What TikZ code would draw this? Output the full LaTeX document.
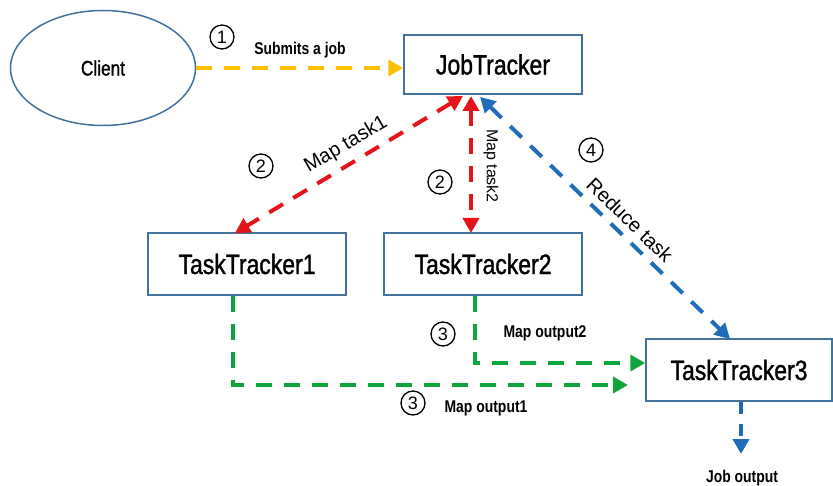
\documentclass[tikz,border=0pt]{standalone}
\usepackage{fontspec}
\setmainfont{Liberation Sans}
\newfontfamily\narrowfont[FakeStretch=0.82]{Liberation Sans}
\newfontfamily\boxfont[FakeStretch=0.82,FakeBold=1.2]{Liberation Sans}
\usetikzlibrary{shapes.geometric,arrows.meta}
\definecolor{boxblue}{HTML}{41719C}
\definecolor{ayellow}{HTML}{FFC000}
\definecolor{ared}{HTML}{E5141B}
\definecolor{ablue}{HTML}{1F6DB8}
\definecolor{agreen}{HTML}{10A53C}
\begin{document}
\begin{tikzpicture}[x=1pt,y=-1pt,
  box/.style={draw=boxblue,line width=1.5pt,rectangle,inner sep=0pt,
    font=\boxfont\fontsize{28}{30}\selectfont},
  flow/.style={line width=4pt,dash pattern=on 16pt off 12pt,
    -{Triangle[length=15pt,width=16pt]}},
  biflow/.style={line width=4pt,dash pattern=on 16pt off 12pt,
    {Triangle[length=15pt,width=16pt]}-{Triangle[length=15pt,width=16pt]}},
  num/.style={circle,draw=black,line width=1.3pt,inner sep=0pt,minimum size=24pt,
    font=\fontsize{18}{18}\selectfont},
  lbl/.style={font=\narrowfont\bfseries\fontsize{17}{19}\selectfont,inner sep=0pt},
  rlbl/.style={font=\fontsize{20}{22}\selectfont,inner sep=0pt}]
\useasboundingbox (0,0) rectangle (833,486);

% nodes
\node[draw=boxblue,line width=1.5pt,ellipse,minimum width=185pt,minimum height=115pt,
  font=\boxfont\fontsize{21}{23}\selectfont] (client) at (103,68) {Client};
\node[box,minimum width=178pt,minimum height=59pt] (jt) at (493,64.5) {JobTracker};
\node[box,minimum width=198pt,minimum height=62pt] (tt1) at (247,264) {TaskTracker1};
\node[box,minimum width=198pt,minimum height=62pt] (tt2) at (483,264) {TaskTracker2};
\node[box,minimum width=186pt,minimum height=62pt] (tt3) at (739,370) {TaskTracker3};

\coordinate (jtA) at (463,96);
\coordinate (jtB) at (471,96);
\coordinate (jtC) at (480,97);
\coordinate (tt1top) at (235,233);
\coordinate (tt2top) at (471,233);
\coordinate (tt3top) at (730,339);
\coordinate (g1a) at (233,296);
\coordinate (g1b) at (233,385);
\coordinate (g1c) at (628,385);
\coordinate (g2a) at (475,296);
\coordinate (g2b) at (475,363);
\coordinate (jobout) at (741,454);

% connectors
\draw[flow,ayellow] (client.east) -- (client.east -| jt.west);
\draw[biflow,ared] (jtA) -- (tt1top);
\draw[biflow,ared] (jtB) -- (tt2top);
\draw[biflow,ablue] (jtC) -- (tt3top);
\draw[flow,agreen] (g1a) -- (g1b) -- (g1c);
\draw[flow,agreen] (g2a) -- (g2b) -- (g2b -| tt3.west);
\draw[flow,ablue,dash pattern=on 12pt off 10pt] ([xshift=2pt]tt3.south) -- (jobout);

% labels
\node[num] (n1) at (222,37) {1};
\node[lbl] (l1) at (300,50) {Submits a job};
\node[num] (n2a) at (261,166) {2};
\node[rlbl,rotate=30.5] (l2a) at (346,145) {Map task1};
\node[num] (n2b) at (440,182) {2};
\node[rlbl,rotate=-90,font=\fontsize{16}{18}\selectfont] (l2b) at (491,166) {Map task2};
\node[num] (n4) at (591,150) {4};
\node[rlbl,rotate=-44.3] (l4) at (630,220) {Reduce task};
\node[num] (n3a) at (443,334) {3};
\node[lbl] (l3a) at (545,333) {Map output2};
\node[num] (n3b) at (413,403) {3};
\node[lbl] (l3b) at (486,408) {Map output1};
\node[lbl] (l5) at (742,478) {Job output};
\end{tikzpicture}
\end{document}
